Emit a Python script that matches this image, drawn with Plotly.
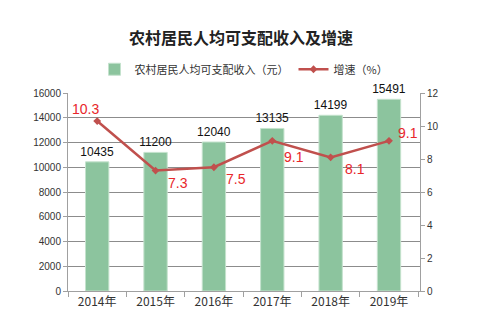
import plotly.graph_objects as go

years = ["2014年", "2015年", "2016年", "2017年", "2018年", "2019年"]
income = [10435, 11200, 12040, 13135, 14199, 15491]
growth = [10.3, 7.3, 7.5, 9.1, 8.1, 9.1]
# label offsets (pixels) for growth labels
gx = [-12, 22, 22, 22, 24, 19]
gy = [12, -12, -12, -16, -12, 8]

CJK = "Noto Sans CJK SC, Liberation Sans, sans-serif"
NUM = "Liberation Sans, Noto Sans CJK SC, sans-serif"

fig = go.Figure()
fig.add_trace(go.Bar(
    x=years, y=income, name="农村居民人均可支配收入（元）",
    marker=dict(color="#8CC49E", line=dict(color="#C4E2CD", width=1)),
    text=[str(v) for v in income], textposition="outside",
    textfont=dict(family=NUM, size=12, color="#111111"),
    constraintext="none",
    cliponaxis=False,
))
fig.add_trace(go.Scatter(
    x=years, y=growth, name="增速（%）", yaxis="y2",
    mode="lines+markers",
    line=dict(color="#C0504D", width=2.5),
    marker=dict(symbol="diamond", size=6, color="#C0504D"),
))
for xv, yv, dx, dy in zip(years, growth, gx, gy):
    fig.add_annotation(x=xv, y=yv, yref="y2", text=str(yv), showarrow=False,
                       xshift=dx, yshift=dy,
                       font=dict(family=NUM, size=14, color="#E8262B"))

fig.update_layout(
    width=482, height=336,
    margin=dict(l=68, r=62, t=93, b=45),
    paper_bgcolor="white", plot_bgcolor="white",
    bargap=0.6,
    uniformtext=dict(mode=False),
    title=dict(text="<b>农村居民人均可支配收入及增速</b>", x=0.5, xanchor="center",
               y=1 - 38/336, yanchor="middle",
               font=dict(family=CJK, size=16, color="#222222")),
    legend=dict(orientation="h", x=0.5, xanchor="center", y=1.12, yanchor="middle",
                font=dict(family=CJK, size=11, color="#333333"),
                itemwidth=30, traceorder="normal"),
    xaxis=dict(showline=True, linecolor="#A0A0A0", linewidth=1,
               ticks="outside", tickcolor="#A0A0A0", ticklen=5,
               tickson="boundaries",
               tickfont=dict(family=CJK, size=12, color="#333333")),
    yaxis=dict(range=[0, 16000], dtick=2000, tickformat="d", showgrid=True,
               gridcolor="#8C8C8C", gridwidth=1, showline=True, linecolor="#A0A0A0",
               ticks="outside", tickcolor="#A0A0A0", ticklen=4,
               tickfont=dict(family=NUM, size=10, color="#333333"), zeroline=False),
    yaxis2=dict(range=[0, 12], dtick=2, overlaying="y", side="right", showgrid=False,
                showline=True, linecolor="#A0A0A0", ticks="outside",
                tickcolor="#A0A0A0", ticklen=4,
                tickfont=dict(family=NUM, size=10, color="#333333"), zeroline=False),
    showlegend=True,
)
fig.write_html("out.html")
